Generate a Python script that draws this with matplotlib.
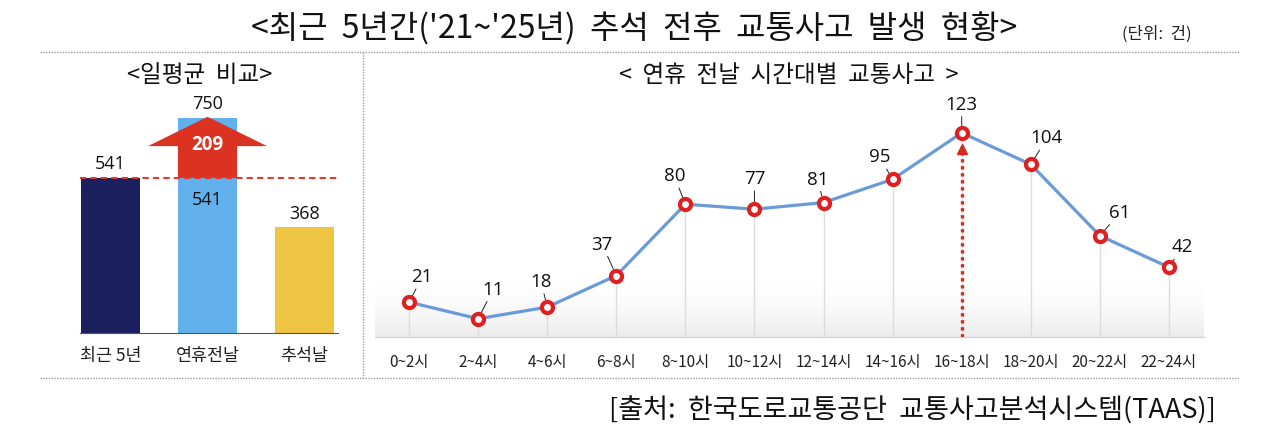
import numpy as np
import matplotlib
matplotlib.use('Agg')
import matplotlib.pyplot as plt
from matplotlib.lines import Line2D
from matplotlib.colors import LinearSegmentedColormap

plt.rcParams['font.family'] = ['Noto Sans CJK KR', 'DejaVu Sans']

# ---- data ----
bar_labels = ['최근 5년', '연휴전날', '추석날']
bar_values = [541, 750, 368]
bar_colors = ['#1a1f5e', '#62b0ec', '#eec443']

hour_labels = ['0~2시', '2~4시', '4~6시', '6~8시', '8~10시', '10~12시', '12~14시',
               '14~16시', '16~18시', '18~20시', '20~22시', '22~24시']
hour_values = [21, 11, 18, 37, 80, 77, 81, 95, 123, 104, 61, 42]
# label offsets (pixels) for the point labels
label_offsets = [(13, 25), (15, 29), (-6, 25), (-14, 31), (-11, 28), (0, 30),
                 (-6, 23), (-13, 22), (0, 28), (16, 26), (20, 23), (13, 20)]

W, H = 1280, 447
fig = plt.figure(figsize=(W / 100, H / 100), dpi=100)


def rect(x0, y0, x1, y1):
    # pixel box (top-left origin) -> figure fraction
    return [x0 / W, 1 - y1 / H, (x1 - x0) / W, (y1 - y0) / H]


def fline(x0, y0, x1, y1):
    fig.add_artist(Line2D([x0 / W, x1 / W], [1 - y0 / H, 1 - y1 / H],
                          color='#9a9a9a', lw=1, ls=(0, (1, 1))))


# titles and frame
fig.text(634 / W, 1 - 29 / H, "<최근  5년간('21~'25년)  추석  전후  교통사고  발생  현황>",
         ha='center', va='center', fontsize=23, color='#111111')
fig.text(1157 / W, 1 - 34 / H, '(단위:  건)', ha='center', va='center', fontsize=12, color='#222222')
fline(40, 52, 1240, 52)
fline(40, 378, 1240, 378)
fline(363, 52, 363, 378)
fig.text(200 / W, 1 - 75 / H, '<일평균  비교>', ha='center', va='center', fontsize=17, color='#111111')
fig.text(789 / W, 1 - 75 / H, '<  연휴  전날  시간대별  교통사고  >', ha='center', va='center',
         fontsize=17, color='#111111')
fig.text(1216 / W, 1 - 411 / H, '[출처:  한국도로교통공단  교통사고분석시스템(TAAS)]',
         ha='right', va='center', fontsize=19.5, color='#111111')

# ---- left: bar chart ----
ax1 = fig.add_axes(rect(80, 95, 338, 333))
xb = np.arange(len(bar_values))
bw = 0.61
ax1.bar(xb, bar_values, width=bw, color=bar_colors, zorder=2)
ax1.set_xlim(-0.314, 2.345)
ax1.set_ylim(0, 830)
for s in ['top', 'right', 'left']:
    ax1.spines[s].set_visible(False)
ax1.spines['bottom'].set_color('#555555')
ax1.set_yticks([])
ax1.set_xticks(xb)
ax1.set_xticklabels(bar_labels, fontsize=12.5, color='#222222')
ax1.tick_params(axis='x', length=0, pad=10)

base = bar_values[0]
peak = bar_values[1]
ax1.axhline(base, color='#e03a2c', lw=1.5, ls=(0, (3, 2)), zorder=4)

# arrow showing the increase
hw = 0.613
sw = bw / 2
head_base = peak - (peak - base) * 0.47
ax1.fill([1 - sw, 1 + sw, 1 + sw, 1 + hw, 1, 1 - hw, 1 - sw],
         [base, base, head_base, head_base, peak + 4, head_base, head_base],
         color='#dc3222', zorder=3, lw=0)
ax1.text(1, head_base + 4, str(peak - base), ha='center', va='center',
         fontsize=13.5, fontweight='bold', color='white', family='Open Sans', zorder=5)

ax1.text(0, base + 16, str(base), ha='center', va='bottom', fontsize=13,
         family='Open Sans', color='#111111')
ax1.text(1, peak + 16, str(peak), ha='center', va='bottom', fontsize=13,
         family='Open Sans', color='#111111')
ax1.text(1, base - 46, str(base), ha='center', va='top', fontsize=13,
         family='Open Sans', color='#111111', zorder=5)
ax1.text(2, bar_values[2] + 16, str(bar_values[2]), ha='center', va='bottom', fontsize=13,
         family='Open Sans', color='#111111')

# ---- right: line chart ----
ax2 = fig.add_axes(rect(374.5, 95, 1203.5, 337))
xh = np.arange(len(hour_values))
ax2.set_xlim(-0.5, len(hour_values) - 0.5)
ax2.set_ylim(0, 145.8)

grad = np.linspace(0, 1, 64).reshape(-1, 1) ** 1.5
ax2.imshow(grad, extent=(-0.5, len(hour_values) - 0.5, 0, 32), aspect='auto',
           cmap=LinearSegmentedColormap.from_list('g', ['white', '#ececec']),
           zorder=0, origin='upper')
ax2.vlines(xh, 0, hour_values, color='#dcdcdc', lw=1, zorder=1)

pk = int(np.argmax(hour_values))
ax2.vlines(pk, 0, hour_values[pk] - 11, color='#d42a1e', lw=2.4, ls=(0, (1, 1.1)), zorder=2)
ax2.plot([pk], [hour_values[pk] - 10], marker='^', color='#d42a1e', ms=7, zorder=2)

ax2.plot(xh, hour_values, color='#6a9bd8', lw=2.3, zorder=3)
ax2.plot(xh, hour_values, ls='none', marker='o', ms=8, mfc='white', mec='#e02020',
         mew=3, zorder=4)

for x, v, off in zip(xh, hour_values, label_offsets):
    ax2.annotate(str(v), xy=(x, v), xytext=off, textcoords='offset pixels',
                 ha='center', va='center', fontsize=13.5, family='Open Sans', color='#111111',
                 arrowprops=dict(arrowstyle='-', color='#222222', lw=0.7,
                                 shrinkA=0, shrinkB=5))

for s in ['top', 'right', 'left']:
    ax2.spines[s].set_visible(False)
ax2.spines['bottom'].set_color('#d0d0d0')
ax2.set_yticks([])
ax2.set_xticks(xh)
ax2.set_xticklabels(hour_labels, fontsize=11, color='#222222')
ax2.tick_params(axis='x', length=0, pad=12)

fig.savefig('out.png', dpi=100)
